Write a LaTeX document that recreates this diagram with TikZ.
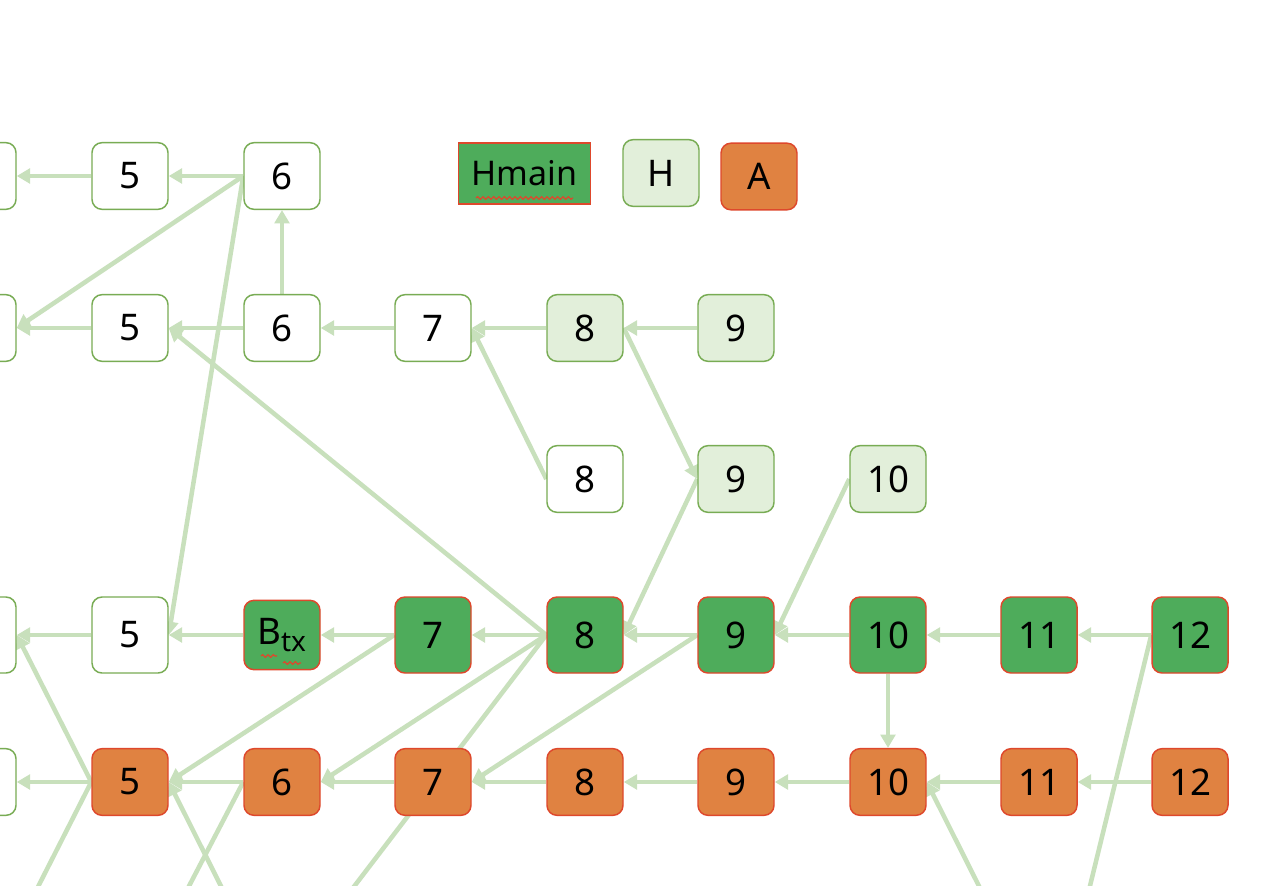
\documentclass[tikz,border=0pt]{standalone}
\usepackage{fontspec}
\setmainfont{Noto Sans}
\usetikzlibrary{arrows.meta,decorations.pathmorphing}
\definecolor{edgeC}{RGB}{200,224,188}
\definecolor{bordG}{RGB}{120,172,84}
\definecolor{lightF}{RGB}{226,239,218}
\definecolor{darkG}{RGB}{78,172,91}
\definecolor{orangeF}{RGB}{224,130,65}
\definecolor{redB}{RGB}{222,72,44}
\pgfdeclarelayer{bg}
\pgfsetlayers{bg,main}
\begin{document}
\begin{tikzpicture}[x=0.75pt,y=-0.75pt,
  box/.style={draw, line width=1.1pt, rounded corners=7.5pt, minimum width=57pt, minimum height=50pt, inner sep=0pt, font=\fontsize{27.5}{32}\selectfont},
  wbox/.style={box, draw=bordG, fill=white},
  lbox/.style={box, draw=bordG, fill=lightF},
  gbox/.style={box, draw=redB, fill=darkG, minimum height=57pt},
  obox/.style={box, draw=redB, fill=orangeF},
  tallw/.style={wbox, minimum height=57pt},
  con/.style={draw=edgeC, line width=3.4pt, -{Triangle[length=10pt,width=11pt]}},
  conline/.style={draw=edgeC, line width=3.4pt},
  wavy/.style={draw=redB, line width=0.9pt, decorate, decoration={snake, amplitude=1pt, segment length=4pt}}]
\useasboundingbox (0,0) rectangle (1280,885);
\clip (0,0) rectangle (1280,885);
\begin{pgfonlayer}{bg}
\fill[white] (0,0) rectangle (1280,885);
\end{pgfonlayer}

% legend
\node[draw=redB, fill=darkG, line width=1.1pt, minimum width=99pt, minimum height=45.5pt, inner sep=0pt, font=\fontsize{25.5}{30}\selectfont] (hm) at (524.5,173.5) {Hmain};
\node[lbox] (lh) at (661,173) {H};
\node[obox] (la) at (759,176.5) {A};

% row 1
\node[wbox] (c0r1) at (-22,176) {};
\node[wbox] (a5) at (130,176) {5};
\node[wbox] (a6) at (282,176) {6};
% row 2
\node[wbox] (c0r2) at (-22,328) {};
\node[wbox] (b5) at (130,328) {5};
\node[wbox] (b6) at (282,328) {6};
\node[wbox] (b7) at (433,328) {7};
\node[lbox] (b8) at (585,328) {8};
\node[lbox] (b9) at (736,328) {9};
% row 3
\node[wbox] (c8) at (585,479) {8};
\node[lbox] (c9) at (736,479) {9};
\node[lbox] (c10) at (888,479) {10};
% row 4
\node[tallw] (c0r4) at (-22,635) {};
\node[tallw] (d5) at (130,635) {5};
\node[gbox, minimum height=52pt] (dB) at (282,635) {B\textsubscript{\fontsize{21}{24}\selectfont tx}};
\node[gbox] (d7) at (433,635) {7};
\node[gbox] (d8) at (585,635) {8};
\node[gbox] (d9) at (736,635) {9};
\node[gbox] (d10) at (888,635) {10};
\node[gbox] (d11) at (1039,635) {11};
\node[gbox] (d12) at (1190,635) {12};
% row 5
\node[wbox] (c0r5) at (-22,782) {};
\node[obox] (e5) at (130,782) {5};
\node[obox] (e6) at (282,782) {6};
\node[obox] (e7) at (433,782) {7};
\node[obox] (e8) at (585,782) {8};
\node[obox] (e9) at (736,782) {9};
\node[obox] (e10) at (888,782) {10};
\node[obox] (e11) at (1039,782) {11};
\node[obox] (e12) at (1190,782) {12};

% wavy spell-check underlines
\draw[wavy] (476,198) -- (573,198);
\draw[wavy] (261,656) -- (277,656);
\draw[wavy] (283,663) -- (301,663);

% off-canvas ends
\coordinate (o1) at (13,936);
\coordinate (o2) at (246,936);
\coordinate (o3) at (163,936);
\coordinate (o4) at (317,935);
\coordinate (o5) at (1004,936);
\coordinate (o6) at (1078,935);

\begin{pgfonlayer}{bg}
% row 1
\draw[con] (a5.west) -- (c0r1.east);
\draw[con] (a6.west) -- (a5.east);
\draw[con] (a6.west) -- (c0r2.east);
\draw[con] (a6.west) -- (d5.east);
% row 2
\draw[con] (b5.west) -- (c0r2.east);
\draw[con] (b6.west) -- (b5.east);
\draw[con] (b7.west) -- (b6.east);
\draw[con] (b8.west) -- (b7.east);
\draw[con] (b9.west) -- (b8.east);
\draw[con] (b6.north) -- (a6.south);
% row 3
\draw[con] (c8.west) -- (b7.east);
\draw[con] (b8.east) -- (c9.west);
\draw[con] (c9.west) -- (d8.east);
\draw[con] (c10.west) -- (d9.east);
% row 4
\draw[con] (d5.west) -- (c0r4.east);
\draw[con] (dB.west) -- (d5.east);
\draw[con] (d7.west) -- (dB.east);
\draw[con] (d8.west) -- (d7.east);
\draw[con] (d9.west) -- (d8.east);
\draw[con] (d10.west) -- (d9.east);
\draw[con] (d11.west) -- (d10.east);
\draw[con] (d12.west) -- (d11.east);
\draw[con] (d8.west) -- (b5.east);
\draw[con] (d10.south) -- (e10.north);
\draw[con] (d7.west) -- (e5.east);
\draw[con] (d8.west) -- (e6.east);
\draw[con] (d9.west) -- (e7.east);
\draw[conline] (d8.west) -- (o4);
\draw[conline] (d12.west) -- (o6);
% row 5
\draw[con] (e5.west) -- (c0r5.east);
\draw[con] (e6.west) -- (e5.east);
\draw[con] (e7.west) -- (e6.east);
\draw[con] (e8.west) -- (e7.east);
\draw[con] (e9.west) -- (e8.east);
\draw[con] (e10.west) -- (e9.east);
\draw[con] (e11.west) -- (e10.east);
\draw[con] (e12.west) -- (e11.east);
\draw[con] (e5.west) -- (c0r4.east);
\draw[conline] (e5.west) -- (o1);
\draw[con] (o2) -- (e5.east);
\draw[conline] (e6.west) -- (o3);
\draw[con] (o5) -- (e10.east);
\end{pgfonlayer}
\end{tikzpicture}
\end{document}
